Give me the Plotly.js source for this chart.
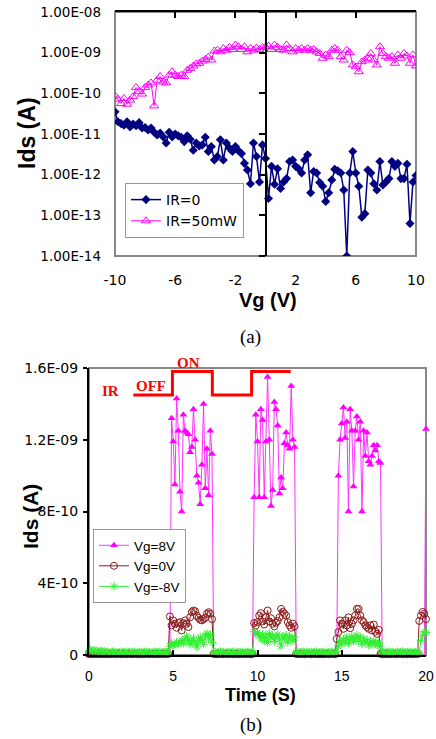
<!DOCTYPE html>
<html>
<head>
<meta charset="utf-8">
<script src="https://cdn.plot.ly/plotly-3.0.1.min.js"></script>
<style>html,body{margin:0;padding:0;background:#fff;}#chart{width:436px;height:739px;}</style>
</head>
<body>
<div id="chart"></div>
<script>
// ---------- (a) Ids vs Vg ----------
const vg = [-10,-9.8,-9.6,-9.4,-9.2,-9,-8.8,-8.6,-8.4,-8.2,
  -8,-7.8,-7.6,-7.4,-7.2,-7,-6.8,-6.6,-6.4,-6.2,
  -6,-5.8,-5.6,-5.4,-5.2,-5,-4.8,-4.6,-4.4,-4.2,
  -4,-3.8,-3.6,-3.4,-3.2,-3,-2.8,-2.6,-2.4,-2.2,
  -2,-1.8,-1.6,-1.4,-1.2,-1,-0.8,-0.6,-0.4,-0.2,
  0,0.2,0.4,0.6,0.8,1,1.2,1.4,1.6,1.8,
  2,2.2,2.4,2.6,2.8,3,3.2,3.4,3.6,3.8,
  4,4.2,4.4,4.6,4.8,5,5.2,5.4,5.6,5.8,
  6,6.2,6.4,6.6,6.8,7,7.2,7.4,7.6,7.8,
  8,8.2,8.4,8.6,8.8,9,9.2,9.4,9.6,9.8,10];
const idsIR0 = [3.5e-11,2.0e-11,1.8e-11,1.65e-11,2.0e-11,1.5e-11,1.75e-11,1.6e-11,1.9e-11,1.4e-11,
  1.45e-11,1.25e-11,1.4e-11,1.1e-11,9.5e-12,1.05e-11,8.5e-12,6e-12,1.1e-11,8.5e-12,
  1e-11,9e-12,8.3e-12,6.5e-12,9e-12,7.4e-12,4e-12,6e-12,5.1e-12,5.4e-12,
  8.3e-12,3.7e-12,4.9e-12,2.3e-12,2.8e-12,7.2e-12,2.3e-12,6e-12,4.5e-12,3.7e-12,
  4.9e-12,3.9e-12,3.3e-12,1.9e-12,1.3e-12,6e-13,6e-12,2.8e-12,6.6e-13,5.4e-12,
  2.5e-12,2.6e-13,1.6e-12,5.8e-13,1.4e-12,4.6e-13,6.6e-13,8e-13,2.1e-12,2.3e-12,
  1.6e-12,1.4e-12,1.1e-12,2.3e-12,3.1e-12,3.6e-13,1.2e-12,1.1e-12,6.4e-13,5.2e-13,
  2.2e-13,3.6e-13,7.4e-13,1.35e-12,1.25e-12,1.1e-12,4.2e-13,1e-14,1.1e-12,3.7e-12,
  1.1e-12,5.2e-13,9e-14,1.1e-13,1.3e-12,1.1e-12,6e-13,4.2e-13,2.1e-12,5.6e-13,
  6.6e-13,8e-13,2.1e-12,1.6e-12,1.9e-12,8e-13,8e-13,1.8e-12,6.3e-14,6.6e-13,9.5e-13];
const idsIR50 = [8.7e-11,7.2e-11,5.6e-11,7.5e-11,5.4e-11,6.8e-11,8.3e-11,1.4e-10,1.1e-10,9.6e-11,
  1.4e-10,1.6e-10,1.8e-10,4.9e-11,2.1e-10,2.6e-10,1.9e-10,1.8e-10,2.8e-10,3.4e-10,
  2.8e-10,2.6e-10,2.8e-10,2.6e-10,3.7e-10,4.1e-10,4.7e-10,5.3e-10,5.5e-10,6.2e-10,
  6.8e-10,7.7e-10,6.6e-10,1.1e-9,1.15e-9,1.05e-9,1.27e-9,1.15e-9,1.35e-9,1.2e-9,
  1.55e-9,1.4e-9,1.2e-9,1.4e-9,1.05e-9,1.27e-9,1.15e-9,1.3e-9,1.2e-9,1.35e-9,
  1.4e-9,1.45e-9,1.2e-9,1.55e-9,1.35e-9,1.2e-9,1.15e-9,1.55e-9,1.27e-9,1.05e-9,
  1.27e-9,1.15e-9,1.27e-9,1.15e-9,1.27e-9,1.15e-9,1.2e-9,1.05e-9,9.6e-10,7.3e-10,
  8.8e-10,8e-10,1.15e-9,1.27e-9,1.15e-9,8e-10,6.6e-10,1.15e-9,1e-9,5e-10,
  4.5e-10,3.4e-10,6e-10,6.6e-10,7.3e-10,9.6e-10,6.6e-10,5e-10,1.4e-9,9.6e-10,
  8e-10,7.3e-10,8e-10,5.5e-10,8.8e-10,7.3e-10,9.6e-10,8.3e-10,5.5e-10,8.8e-10,4.7e-10];
const topYTicks = [1e-8,1e-9,1e-10,1e-11,1e-12,1e-13,1e-14];
const topYText = ["1.00E-08","1.00E-09","1.00E-10","1.00E-11","1.00E-12","1.00E-13","1.00E-14"];
const topXTicks = [-10,-6,-2,2,6,10];
const topXText = ["-10","-6","-2","2","6","10"];

// ---------- (b) Ids vs Time ----------
const time = [0,0.1,0.2,0.3,0.4,0.5,0.6,0.7,0.8,0.9,
  1,1.1,1.2,1.3,1.4,1.5,1.6,1.7,1.8,1.9,
  2,2.1,2.2,2.3,2.4,2.5,2.6,2.7,2.8,2.9,
  3,3.1,3.2,3.3,3.4,3.5,3.6,3.7,3.8,3.9,
  4,4.1,4.2,4.3,4.4,4.5,4.6,4.7,4.8,4.9,
  5,5.1,5.2,5.3,5.4,5.5,5.6,5.7,5.8,5.9,
  6,6.1,6.2,6.3,6.4,6.5,6.6,6.7,6.8,6.9,
  7,7.1,7.2,7.3,7.4,7.5,7.6,7.7,7.8,7.9,
  8,8.1,8.2,8.3,8.4,8.5,8.6,8.7,8.8,8.9,
  9,9.1,9.2,9.3,9.4,9.5,9.6,9.7,9.8,9.9,
  10,10.1,10.2,10.3,10.4,10.5,10.6,10.7,10.8,10.9,
  11,11.1,11.2,11.3,11.4,11.5,11.6,11.7,11.8,11.9,
  12,12.1,12.2,12.3,12.4,12.5,12.6,12.7,12.8,12.9,
  13,13.1,13.2,13.3,13.4,13.5,13.6,13.7,13.8,13.9,
  14,14.1,14.2,14.3,14.4,14.5,14.6,14.7,14.8,14.9,
  15,15.1,15.2,15.3,15.4,15.5,15.6,15.7,15.8,15.9,
  16,16.1,16.2,16.3,16.4,16.5,16.6,16.7,16.8,16.9,
  17,17.1,17.2,17.3,17.4,17.5,17.6,17.7,17.8,17.9,
  18,18.1,18.2,18.3,18.4,18.5,18.6,18.7,18.8,18.9,
  19,19.1,19.2,19.3,19.4,19.5,19.6,19.7,19.8,19.9,
  20];
const idsVg8 = [2e-12,-5e-12,-8e-12,-9e-12,-7e-12,-8e-12,-9e-12,-8e-12,-7e-12,-9e-12,
  -8e-12,-9e-12,-7e-12,-8e-12,-9e-12,-8e-12,-7e-12,-8e-12,-9e-12,-8e-12,
  -8e-12,-9e-12,-7e-12,-8e-12,-9e-12,-8e-12,-7e-12,-8e-12,-9e-12,-8e-12,
  -8e-12,-9e-12,-7e-12,-8e-12,-9e-12,-8e-12,-7e-12,-8e-12,-9e-12,-8e-12,
  -8e-12,-9e-12,-7e-12,-8e-12,-9e-12,-8e-12,-7e-12,-8e-12,-8e-12,1.32e-9,
  1.19e-9,9.5e-10,1.43e-9,1.25e-9,9.1e-10,8.0e-10,1.34e-9,1.25e-9,1.24e-9,1.23e-9,
  1.13e-9,1.16e-9,1.37e-9,1.2e-9,1.0e-9,9.6e-10,8.4e-10,1.06e-9,1.4e-9,9.3e-10,
  1.15e-9,8.9e-10,1.25e-9,1.12e-9,-8e-12,-9e-12,-7e-12,-8e-12,-9e-12,-8e-12,
  -8e-12,-9e-12,-7e-12,-8e-12,-9e-12,-8e-12,-7e-12,-8e-12,-9e-12,-8e-12,
  -8e-12,-9e-12,-7e-12,-8e-12,-9e-12,-8e-12,-7e-12,-8e-12,8.8e-10,1.34e-9,
  1.19e-9,8.8e-10,1.37e-9,1.31e-9,8.8e-10,1.19e-9,1.55e-9,1.2e-9,8.3e-10,9.2e-10,
  1.41e-9,1.37e-9,1.28e-9,9.0e-10,9.9e-10,9.3e-10,1.18e-9,1.24e-9,1.17e-9,1.15e-9,
  1.5e-9,1.2e-9,1.16e-9,-8e-12,-9e-12,-7e-12,-8e-12,-9e-12,-8e-12,-7e-12,
  -8e-12,-9e-12,-7e-12,-8e-12,-9e-12,-8e-12,-7e-12,-8e-12,-9e-12,-8e-12,
  -8e-12,-9e-12,-7e-12,-8e-12,-9e-12,-8e-12,-7e-12,-8e-12,1.0e-9,1.2e-9,
  1.29e-9,1.38e-9,1.21e-9,1.3e-9,8.0e-10,1.37e-9,1.25e-9,9.4e-10,1.25e-9,1.33e-9,
  1.2e-9,1.3e-9,8.0e-10,1.25e-9,1.11e-9,1.24e-9,1.08e-9,1.06e-9,1.11e-9,1.17e-9,
  1.14e-9,1.17e-9,1.08e-9,1.07e-9,-8e-12,-9e-12,-7e-12,-8e-12,-9e-12,-8e-12,
  -8e-12,-9e-12,-7e-12,-8e-12,-9e-12,-8e-12,-7e-12,-8e-12,-9e-12,-8e-12,
  -8e-12,-9e-12,-7e-12,-8e-12,-9e-12,-8e-12,-7e-12,-8e-12,-9e-12,-8e-12,
  1.26e-9];
const idsVg0 = [5e-12,6e-12,4e-12,5e-12,7e-12,5e-12,4e-12,6e-12,5e-12,4e-12,
  5e-12,6e-12,4e-12,5e-12,7e-12,5e-12,4e-12,6e-12,5e-12,4e-12,
  5e-12,6e-12,4e-12,5e-12,7e-12,5e-12,4e-12,6e-12,5e-12,4e-12,
  5e-12,6e-12,4e-12,5e-12,7e-12,5e-12,4e-12,6e-12,5e-12,4e-12,
  5e-12,6e-12,4e-12,5e-12,7e-12,5e-12,4e-12,6e-12,2.15e-10,1.65e-10,
  1.93e-10,1.74e-10,1.52e-10,1.78e-10,1.83e-10,1.37e-10,1.78e-10,1.93e-10,1.74e-10,1.56e-10,
  2.1e-10,2.39e-10,2.48e-10,2.44e-10,2.2e-10,2.07e-10,1.96e-10,1.93e-10,2.0e-10,2.07e-10,
  2.3e-10,2.39e-10,2.3e-10,2.0e-10,6e-12,5e-12,4e-12,6e-12,5e-12,4e-12,
  5e-12,6e-12,4e-12,5e-12,7e-12,5e-12,4e-12,6e-12,5e-12,4e-12,
  5e-12,6e-12,4e-12,5e-12,7e-12,5e-12,4e-12,6e-12,1.78e-10,1.65e-10,
  1.83e-10,2.2e-10,2.33e-10,1.87e-10,1.7e-10,2.1e-10,2.48e-10,1.87e-10,2.05e-10,1.74e-10,
  1.6e-10,1.8e-10,1.9e-10,2.1e-10,2.57e-10,2.4e-10,2.3e-10,2.2e-10,1.83e-10,1.65e-10,
  1.52e-10,1.75e-10,1.6e-10,6e-12,5e-12,4e-12,6e-12,5e-12,4e-12,5e-12,
  5e-12,6e-12,4e-12,5e-12,7e-12,5e-12,4e-12,6e-12,5e-12,4e-12,
  5e-12,6e-12,4e-12,5e-12,7e-12,5e-12,4e-12,9e-11,1.28e-10,1.93e-10,
  1.74e-10,1.46e-10,1.93e-10,1.65e-10,2.1e-10,1.5e-10,1.74e-10,1.93e-10,2.2e-10,2.57e-10,
  2.57e-10,2.2e-10,1.93e-10,1.83e-10,1.65e-10,1.56e-10,1.46e-10,1.65e-10,1.37e-10,1.7e-10,
  1.3e-10,1.18e-10,1.4e-10,6e-12,5e-12,4e-12,6e-12,5e-12,4e-12,5e-12,
  5e-12,6e-12,4e-12,5e-12,7e-12,5e-12,4e-12,6e-12,5e-12,4e-12,
  5e-12,6e-12,4e-12,5e-12,7e-12,5e-12,1.9e-10,2.2e-10,2.4e-10,2.3e-10,
  2.0e-10];
const idsVgm8 = [2.5e-11,2.8e-11,2.2e-11,2.6e-11,2.0e-11,2.4e-11,1.8e-11,2.2e-11,1.9e-11,2.1e-11,
  1.5e-11,1.8e-11,1.2e-11,1.6e-11,1.9e-11,1.4e-11,1.7e-11,1.1e-11,1.5e-11,1.8e-11,
  1.3e-11,1.6e-11,1.9e-11,1.2e-11,1.5e-11,1.7e-11,1.4e-11,1.8e-11,1.1e-11,1.6e-11,
  1.5e-11,1.8e-11,1.2e-11,1.6e-11,1.9e-11,1.4e-11,1.7e-11,1.1e-11,1.5e-11,1.8e-11,
  1.3e-11,1.6e-11,1.9e-11,1.2e-11,1.5e-11,1.7e-11,1.4e-11,1.8e-11,5e-11,6.5e-11,
  5.5e-11,6e-11,7e-11,6e-11,7.5e-11,8e-11,6.5e-11,9e-11,1.05e-10,8e-11,
  6e-11,7.5e-11,9.5e-11,6.5e-11,4.5e-11,8e-11,1.0e-10,8.5e-11,6e-11,1.1e-10,
  1.2e-10,9e-11,1.15e-10,7e-11,1.5e-11,1.8e-11,1.2e-11,1.6e-11,1.9e-11,1.4e-11,
  1.7e-11,1.1e-11,1.5e-11,1.8e-11,1.3e-11,1.6e-11,1.9e-11,1.2e-11,1.5e-11,1.7e-11,
  1.4e-11,1.8e-11,1.1e-11,1.6e-11,1.5e-11,1.8e-11,1.2e-11,1.6e-11,1.3e-10,1.2e-10,
  1.25e-10,1.1e-10,9e-11,1.15e-10,8e-11,1.05e-10,7e-11,1.2e-10,9.5e-11,1.1e-10,
  7.5e-11,1.0e-10,1.15e-10,8.5e-11,5e-11,1.05e-10,9e-11,1.1e-10,7e-11,1.05e-10,
  9.5e-11,8e-11,1.0e-10,1.5e-11,1.8e-11,1.2e-11,1.6e-11,1.9e-11,1.4e-11,1.7e-11,
  1.1e-11,1.5e-11,1.8e-11,1.3e-11,1.6e-11,1.9e-11,1.2e-11,1.5e-11,1.7e-11,1.4e-11,
  1.8e-11,1.1e-11,1.6e-11,1.5e-11,1.8e-11,1.2e-11,1.6e-11,1.9e-11,5e-11,8e-11,
  6e-11,9e-11,7e-11,1.0e-10,6.5e-11,8.5e-11,1.05e-10,7.5e-11,9.5e-11,1.1e-10,
  8e-11,1.0e-10,6e-11,9e-11,7e-11,8.5e-11,5.5e-11,7.5e-11,6e-11,8e-11,
  6.5e-11,5.5e-11,7e-11,5e-11,1.5e-11,1.8e-11,1.2e-11,1.6e-11,1.9e-11,1.4e-11,
  1.7e-11,1.1e-11,1.5e-11,1.8e-11,1.3e-11,1.6e-11,1.9e-11,1.2e-11,1.5e-11,1.7e-11,
  1.4e-11,1.8e-11,1.1e-11,1.6e-11,1.5e-11,1.8e-11,1.2e-11,8e-11,1.1e-10,1.3e-10,
  1.25e-10];
// IR on/off indicator (time, level on the Ids axis)
const irTime  = [2.63, 4.95, 4.95, 7.32, 7.32, 9.65, 9.65, 11.97];
const irLevel = [1.45e-9, 1.45e-9, 1.58e-9, 1.58e-9, 1.45e-9, 1.45e-9, 1.58e-9, 1.58e-9];
const botYTicks = [0, 4e-10, 8e-10, 1.2e-9, 1.6e-9];
const botYText = ["0","4E-10","8E-10","1.2E-09","1.6E-09"];
const botXTicks = [0,5,10,15,20];

const W = 436, H = 739;
const px = v => v / W;
const py = v => 1 - v / H;
const SANS = "DejaVu Sans, sans-serif";
const ARIAL = "Liberation Sans, Arial, sans-serif";
const SERIF = "Liberation Serif, Times New Roman, serif";

const traces = [
  {x: vg, y: idsIR0, name: "IR=0", type: "scatter", mode: "lines+markers",
   xaxis: "x", yaxis: "y", legend: "legend",
   line: {color: "#000080", width: 1.5},
   marker: {symbol: "diamond", size: 7, color: "#000080"}},
  {x: vg, y: idsIR50, name: "IR=50mW", type: "scatter", mode: "lines+markers",
   xaxis: "x", yaxis: "y", legend: "legend",
   line: {color: "#ff00ff", width: 1},
   marker: {symbol: "triangle-up-open", size: 8, color: "#ff00ff", line: {width: 1}}},
  {x: [], y: [], xaxis: "x3", yaxis: "y", showlegend: false, hoverinfo: "skip"},
  {x: [], y: [], xaxis: "x", yaxis: "y3", showlegend: false, hoverinfo: "skip"},
  {x: time, y: idsVg8, name: "Vg=8V", type: "scatter", mode: "lines+markers",
   xaxis: "x2", yaxis: "y2", legend: "legend2", cliponaxis: false,
   line: {color: "#ff33ff", width: 1},
   marker: {symbol: "triangle-up", size: 7, color: "#ff00ff"}},
  {x: time, y: idsVg0, name: "Vg=0V", type: "scatter", mode: "lines+markers",
   xaxis: "x2", yaxis: "y2", legend: "legend2", cliponaxis: false,
   line: {color: "#8b1a1a", width: 1},
   marker: {symbol: "circle-open", size: 7, color: "#8b1a1a", line: {width: 1}}},
  {x: time, y: idsVgm8, name: "Vg=-8V", type: "scatter", mode: "lines+markers",
   xaxis: "x2", yaxis: "y2", legend: "legend2", cliponaxis: false,
   line: {color: "#33ee33", width: 1},
   marker: {symbol: "asterisk-open", size: 7, color: "#33ee33", line: {width: 1, color: "#33ee33"}}},
  {x: irTime, y: irLevel, type: "scatter", mode: "lines", xaxis: "x2", yaxis: "y2",
   showlegend: false, hoverinfo: "skip", cliponaxis: false,
   line: {color: "#ff0000", width: 3}}
];

const topDomX = [px(115), px(416)];
const topDomY = [py(256), py(12)];
const botDomX = [px(89), px(426)];
const botDomY = [py(655), py(368)];

const layout = {
  width: W, height: H,
  margin: {l: 0, r: 0, t: 0, b: 0},
  paper_bgcolor: "#ffffff", plot_bgcolor: "#ffffff",
  showlegend: true,
  xaxis: {domain: topDomX, anchor: "y", range: [-10, 10], tickvals: topXTicks, ticktext: topXText,
    ticks: "", showline: false, zeroline: false, showgrid: false,
    ticklabelstandoff: 14, tickfont: {family: SANS, size: 14, color: "#000"}},
  xaxis3: {overlaying: "x", anchor: "y", side: "top", range: [-10, 10], tickvals: topXTicks,
    ticks: "inside", ticklen: 6, tickwidth: 2, tickcolor: "#000", showticklabels: false,
    showline: true, linecolor: "#000", linewidth: 2, zeroline: false, showgrid: false},
  yaxis: {domain: topDomY, anchor: "x", type: "log", range: [-14, -8],
    tickvals: topYTicks, ticktext: topYText, ticks: "", showline: false, zeroline: false,
    showgrid: false, ticklabelstandoff: 13, tickfont: {family: SANS, size: 13.5, color: "#000"}},
  yaxis3: {overlaying: "y", anchor: "free", position: px(115 + 150.5), type: "log", range: [-14, -8],
    tickvals: topYTicks, ticks: "outside", ticklen: 6, tickwidth: 2, tickcolor: "#000",
    showticklabels: false, showline: true, linecolor: "#000", linewidth: 2,
    zeroline: false, showgrid: false},
  xaxis2: {domain: botDomX, anchor: "y2", range: [0, 20], tickvals: botXTicks,
    ticks: "inside", ticklen: 5, tickwidth: 2, tickcolor: "#000",
    showline: true, linecolor: "#000", linewidth: 2, zeroline: false, showgrid: false,
    ticklabelstandoff: 7, tickfont: {family: ARIAL, size: 14, color: "#000"}},
  yaxis2: {domain: botDomY, anchor: "x2", range: [0, 1.6e-9], tickvals: botYTicks, ticktext: botYText,
    ticks: "outside", ticklen: 4, tickwidth: 2, tickcolor: "#000",
    showline: true, linecolor: "#000", linewidth: 2, zeroline: false, showgrid: false,
    ticklabelstandoff: 2, tickfont: {family: SANS, size: 14, color: "#000"}},
  legend: {x: px(125), y: py(183), xanchor: "left", yanchor: "top",
    bgcolor: "#ffffff", bordercolor: "#999999", borderwidth: 1,
    font: {family: SANS, size: 14, color: "#000"}, tracegroupgap: 0},
  legend2: {x: px(93), y: py(529), xanchor: "left", yanchor: "top",
    bgcolor: "#ffffff", bordercolor: "#999999", borderwidth: 1,
    font: {family: ARIAL, size: 13.5, color: "#000"}, tracegroupgap: 0},
  shapes: [
    {type: "rect", xref: "x domain", yref: "y domain", x0: 0, x1: 1, y0: 0, y1: 1,
     line: {color: "#888888", width: 2}, layer: "below"},
    {type: "rect", xref: "x2 domain", yref: "y2 domain", x0: 0, x1: 1, y0: 0, y1: 1,
     line: {color: "#888888", width: 2}, layer: "below"}
  ],
  annotations: [
    {text: "<b>Ids (A)</b>", xref: "paper", yref: "paper", x: px(27), y: py(133), textangle: -90,
     showarrow: false, font: {family: ARIAL, size: 23, color: "#000"}, xanchor: "center", yanchor: "middle"},
    {text: "<b>Vg (V)</b>", xref: "paper", yref: "paper", x: px(268), y: py(300),
     showarrow: false, font: {family: ARIAL, size: 20, color: "#000"}, xanchor: "center", yanchor: "middle"},
    {text: "(a)", xref: "paper", yref: "paper", x: px(250), y: py(337),
     showarrow: false, font: {family: SERIF, size: 19, color: "#000"}, xanchor: "center", yanchor: "middle"},
    {text: "<b>Ids (A)</b>", xref: "paper", yref: "paper", x: px(30), y: py(517), textangle: -90,
     showarrow: false, font: {family: ARIAL, size: 21, color: "#000"}, xanchor: "center", yanchor: "middle"},
    {text: "<b>Time (S)</b>", xref: "paper", yref: "paper", x: px(260), y: py(695),
     showarrow: false, font: {family: ARIAL, size: 18, color: "#000"}, xanchor: "center", yanchor: "middle"},
    {text: "(b)", xref: "paper", yref: "paper", x: px(251), y: py(725),
     showarrow: false, font: {family: SERIF, size: 19, color: "#000"}, xanchor: "center", yanchor: "middle"},
    {text: "<b>IR</b>", xref: "paper", yref: "paper", x: px(110), y: py(391),
     showarrow: false, font: {family: SERIF, size: 15, color: "#ff0000"}, xanchor: "center", yanchor: "middle"},
    {text: "<b>OFF</b>", xref: "paper", yref: "paper", x: px(151), y: py(386),
     showarrow: false, font: {family: SERIF, size: 15, color: "#ff0000"}, xanchor: "center", yanchor: "middle"},
    {text: "<b>ON</b>", xref: "paper", yref: "paper", x: px(188), y: py(363),
     showarrow: false, font: {family: SERIF, size: 15, color: "#ff0000"}, xanchor: "center", yanchor: "middle"}
  ]
};

Plotly.newPlot("chart", traces, layout, {displayModeBar: false, staticPlot: true});
</script>
</body>
</html>
